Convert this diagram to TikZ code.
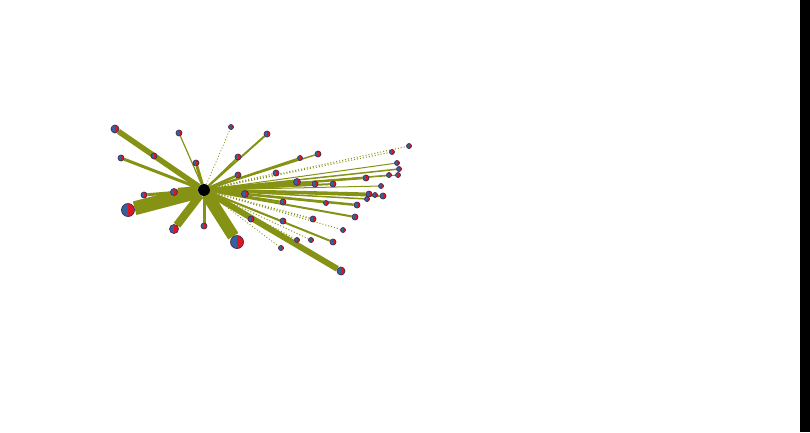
\documentclass[tikz,border=0pt]{standalone}
\usetikzlibrary{backgrounds}
\definecolor{edgecol}{RGB}{134,146,20}
\definecolor{nblue}{RGB}{52,98,158}
\definecolor{nred}{RGB}{222,22,36}
\definecolor{ndark}{RGB}{70,45,75}
\tikzset{
  edge/.style={draw=edgecol},
  full/.style={},
  dotline/.style={dash pattern=on 1pt off 2pt},
  vnode/.style={circle, inner sep=0pt, fill=nblue, draw=ndark, line width=0.7pt,
    path picture={\fill[nred] (path picture bounding box.north) rectangle (path picture bounding box.south east);}},
  hub/.style={circle, inner sep=0pt, minimum size=12pt, fill=black}
}
\begin{document}
\begin{tikzpicture}[x=1pt,y=-1pt]
\useasboundingbox (0,0) rectangle (810,432);
\fill[black] (800,0) rectangle (810,432);
\node[hub] (ctr) at (204,190) {};
\foreach \nm/\x/\y/\d/\w/\st in {
 a/115/129/8/5.5/full, b/154/156/6/2/full, c/121/158/6/3/full, d/179/133/6/1.2/full,
 e/196/163/6/3/full, f/144/195/6/3/full, g/174/192/7/8/full, h/128/210/13/14/full,
 i/174/229/9/8/full, j/204/226/6/3/full, k/237/242/13/12/full, l/231/127/5/0.8/dotline,
 m/267/134/6/2/full, n/238/157/6/1.5/full, o/238/175/6/2.5/full, p/300/158/5/2/full,
 q/318/154/6/1.5/full, r/409/146/5/1/dotline, s/392/152/5/1/dotline, t/397/163/5/1/full,
 u/399/169/5/1.5/full, v/398/175/5/1/full, w/389/175/5/1/full, x/366/178/6/2/full,
 y/276/173/6/1/dotline, z/297/182/7/4/full, aa/315/184/6/3/full, ab/333/184/6/2/full,
 ac/381/186/5/1/full, ad/369/194/6/3/full, ae/375/195/5/2/full, af/383/196/6/2/full,
 ag/367/199/5/1.5/full, ah/245/194/7/3/full, ai/283/202/6/2/full, aj/326/203/5/1/full,
 ak/357/205/6/2.5/full, al/355/217/6/2/full, am/313/219/6/1.5/dotline, an/283/221/6/1/dotline,
 ao/251/219/6/2/full, ap/343/230/5/1/dotline, aq/333/242/6/2/full, ar/311/240/5/1/dotline,
 as/297/240/5/1/dotline, at/281/248/5/0.8/dotline, au/341/271/8/6/full}
{
  \node[vnode, minimum size=\d pt] (\nm) at (\x,\y) {};
  \begin{pgfonlayer}{background}
    \draw[edge, line width=\w pt, \st] (ctr) -- (\nm);
  \end{pgfonlayer}
}
\end{tikzpicture}
\end{document}
